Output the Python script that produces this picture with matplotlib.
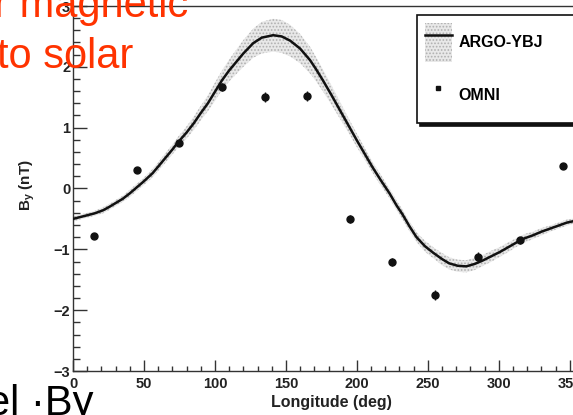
import matplotlib
matplotlib.use("Agg")
import matplotlib.pyplot as plt
from matplotlib.patches import Patch
from matplotlib.lines import Line2D
from matplotlib.ticker import MultipleLocator

# ---- data ----
curve_lon = [0, 5, 10, 15, 21, 25, 30, 35, 40, 45, 50, 56, 60, 65, 70, 74, 80, 85, 90, 95,
             100, 105, 110, 115, 120, 127, 133, 141, 147, 153, 160, 167, 171, 176, 182, 188,
             194, 200, 205, 211, 217, 223, 228, 232, 237, 242, 248, 254, 260, 265, 271, 277,
             283, 289, 295, 301, 307, 313, 318, 324, 330, 336, 342, 348, 354, 360]
curve_by = [-0.50, -0.47, -0.44, -0.41, -0.36, -0.31, -0.24, -0.17, -0.08, 0.02, 0.12, 0.25,
            0.36, 0.50, 0.64, 0.76, 0.92, 1.07, 1.24, 1.40, 1.59, 1.78, 1.94, 2.08, 2.22, 2.39,
            2.48, 2.52, 2.50, 2.43, 2.30, 2.11, 1.97, 1.78, 1.54, 1.29, 1.04, 0.79, 0.59, 0.35,
            0.13, -0.08, -0.28, -0.42, -0.62, -0.80, -0.95, -1.06, -1.16, -1.23, -1.27, -1.28,
            -1.24, -1.18, -1.11, -1.04, -0.96, -0.88, -0.82, -0.77, -0.71, -0.66, -0.61, -0.56,
            -0.53, -0.50]
curve_err = [0.04, 0.04, 0.04, 0.04, 0.05, 0.05, 0.05, 0.05, 0.06, 0.06, 0.06, 0.07,
             0.07, 0.08, 0.08, 0.09, 0.10, 0.11, 0.12, 0.13, 0.15, 0.16, 0.18, 0.20, 0.22, 0.24,
             0.26, 0.27, 0.27, 0.26, 0.24, 0.22, 0.20, 0.18, 0.16, 0.14, 0.12, 0.11, 0.10, 0.09,
             0.09, 0.08, 0.08, 0.08, 0.08, 0.08, 0.09, 0.09, 0.10, 0.10, 0.10, 0.10,
             0.10, 0.09, 0.09, 0.08, 0.08, 0.07, 0.07, 0.06, 0.06, 0.05, 0.05, 0.05,
             0.04, 0.04]

omni_lon = [15, 45, 75, 105, 135, 165, 195, 225, 255, 285, 315, 345]
omni_by = [-0.78, 0.30, 0.75, 1.67, 1.50, 1.52, -0.50, -1.21, -1.75, -1.13, -0.85, 0.37]
omni_err = [0.05, 0.05, 0.05, 0.06, 0.08, 0.08, 0.06, 0.06, 0.08, 0.08, 0.06, 0.05]

xticks = [0, 50, 100, 150, 200, 250, 300, 350]
yticks = [-3, -2, -1, 0, 1, 2, 3]

plt.rcParams['mathtext.fontset'] = 'custom'
plt.rcParams['mathtext.rm'] = 'Liberation Sans'
plt.rcParams['mathtext.bf'] = 'Liberation Sans:bold'
plt.rcParams['hatch.linewidth'] = 0.8

W, H = 573, 415
fig = plt.figure(figsize=(W / 100, H / 100), dpi=100)
ax = fig.add_axes([73 / W, (H - 371) / H, 511 / W, 365 / H])

axc = '#333333'
txc = '#222222'
lo = [c - e for c, e in zip(curve_by, curve_err)]
hi = [c + e for c, e in zip(curve_by, curve_err)]
ax.fill_between(curve_lon, lo, hi, facecolor='#e8e8e8', edgecolor='#b0b0b0',
                hatch='.....', linewidth=0, zorder=1)
ax.plot(curve_lon, curve_by, color='#111111', lw=1.8, zorder=3)
ax.errorbar(omni_lon, omni_by, yerr=omni_err, fmt='o', color='#111111', ms=5,
            elinewidth=1, capsize=0, zorder=4)

ax.set_xlim(0, 360)
ax.set_ylim(-3, 3)
ax.set_xticks(xticks)
ax.set_yticks(yticks)
ax.xaxis.set_minor_locator(MultipleLocator(10))
ax.yaxis.set_minor_locator(MultipleLocator(0.2))
ax.spines['right'].set_visible(False)
for s in ['left', 'bottom', 'top']:
    ax.spines[s].set_color(axc)
    ax.spines[s].set_linewidth(1.0)
ax.tick_params(axis='x', which='major', direction='in', length=8, width=1, color=axc,
               pad=4, labelsize=10.5, top=False)
ax.tick_params(axis='x', which='minor', direction='in', length=3.5, width=1, color=axc, top=False)
ax.tick_params(axis='y', which='major', direction='in', length=10, width=1, color=axc,
               pad=2, labelsize=10.5, right=False)
ax.tick_params(axis='y', which='minor', direction='in', length=5, width=1, color=axc, right=False)
for lab in ax.get_xticklabels() + ax.get_yticklabels():
    lab.set_fontweight('bold')
    lab.set_fontfamily('Liberation Sans')
    lab.set_color(txc)

ax.set_xlabel('Longitude (deg)', fontsize=11.5, fontweight='bold', family='Liberation Sans', color=txc)
ax.xaxis.set_label_coords(0.505, -0.065)
ax.set_ylabel(r'$\mathbf{B_y}$ (nT)', fontsize=11, fontweight='bold', family='Liberation Sans', color=txc)
ax.yaxis.set_label_coords(-0.07, 0.51)

h1 = (Patch(facecolor='#e8e8e8', edgecolor='#b0b0b0', hatch='.....', linewidth=0),
      Line2D([], [], color='#111111', lw=1.8))
h2 = Line2D([], [], marker='s', ls='none', color='#111111', ms=3.5)
leg = ax.legend([h1, h2], ['ARGO-YBJ', 'OMNI'], loc='upper left',
                bbox_to_anchor=(0.673, 0.975, 0.33, 0.0), mode='expand', borderaxespad=0,
                prop={'family': 'Liberation Sans', 'weight': 'bold', 'size': 11.5},
                handlelength=1.7, handleheight=3.4, labelspacing=0.875, borderpad=0.5,
                handletextpad=0.4, fancybox=False,
                shadow={'color': '#111111', 'alpha': 1.0}, edgecolor='#111111',
                framealpha=1.0)
leg.get_frame().set_linewidth(1.2)

# slide overlay texts
slide_font = 'Liberation Sans'
fig.text(-5.5 / W, 1 - 17 / H, 'r magnetic', color='#FF3300', fontsize=30,
         family=slide_font, va='baseline', ha='left')
fig.text(-3 / W, 1 - 68 / H, 'to solar', color='#FF3300', fontsize=30,
         family=slide_font, va='baseline', ha='left')
fig.text(-13 / W, (H - 415) / H, 'el \u00b7By', color='black', fontsize=30,
         family=slide_font, va='baseline', ha='left')

fig.savefig('out.png', dpi=100)
